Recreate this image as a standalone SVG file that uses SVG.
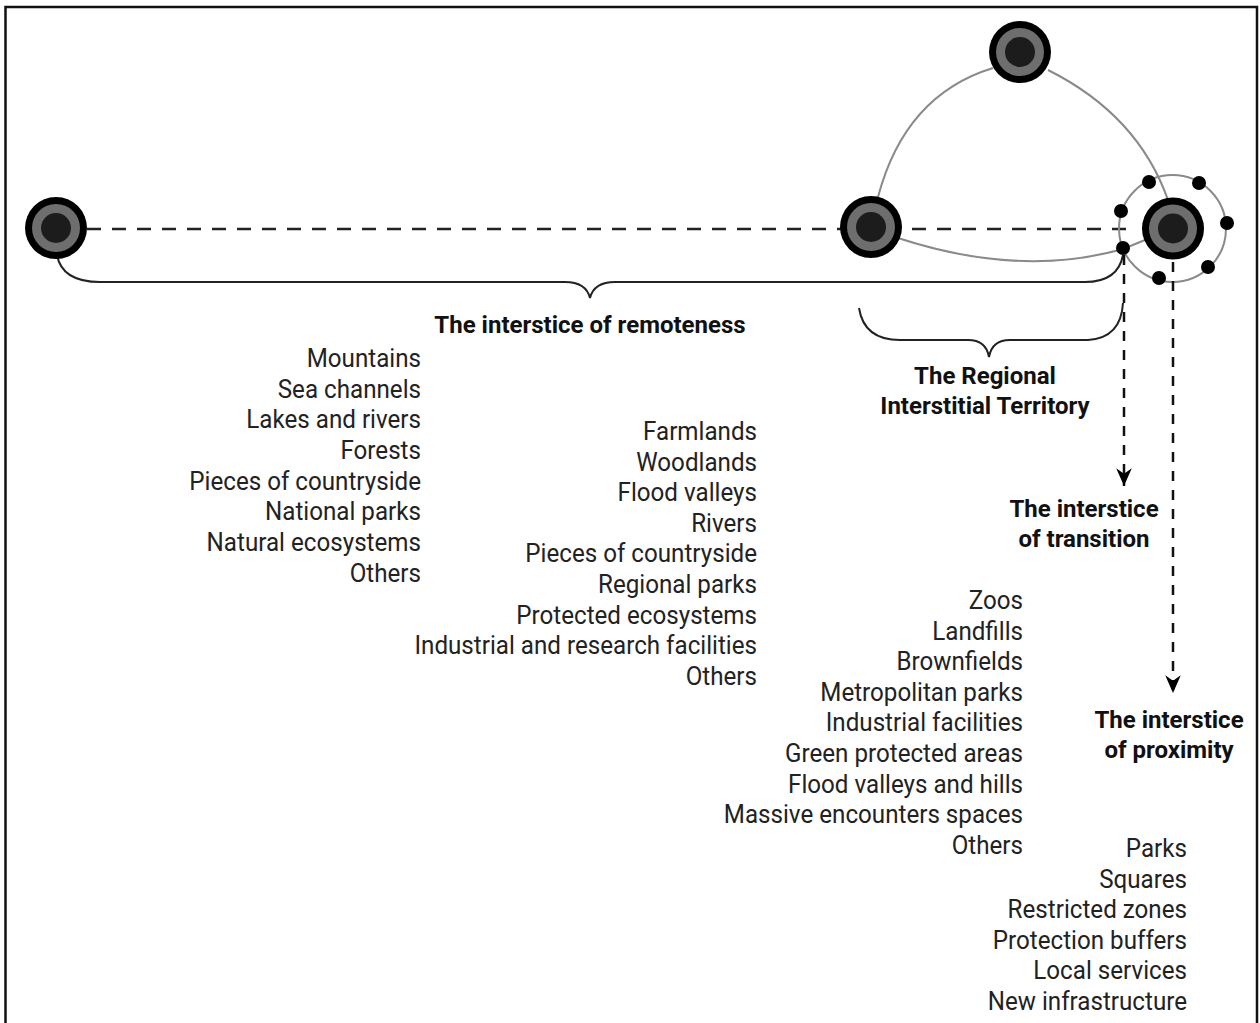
<svg xmlns="http://www.w3.org/2000/svg" width="1260" height="1023" viewBox="0 0 1260 1023">
<defs>
<style>
.frame{fill:none;stroke:#111;stroke-width:2.5}
.hdash{fill:none;stroke:#222;stroke-width:2.5;stroke-dasharray:14 11}
.vdash{fill:none;stroke:#111;stroke-width:2.5;stroke-dasharray:10 9}
.gray{fill:none;stroke:#8a8a8a;stroke-width:2}
.brace{fill:none;stroke:#222;stroke-width:2}
.outer{fill:#000}
.ring{fill:#6e6e6e}
.core{fill:#1c1c1c}
.dot{fill:#000}
.item{font-family:Roboto,"Liberation Sans",sans-serif;font-size:26px;fill:#222;text-anchor:end}
.head{font-family:Roboto,"Liberation Sans",sans-serif;font-size:24px;font-weight:bold;fill:#111;text-anchor:middle}
</style>
<marker id="arr" markerUnits="userSpaceOnUse" markerWidth="20" markerHeight="20" viewBox="-16 -9 18 18" refX="0" refY="0" orient="auto">
<path d="M0,0 L-16,-7 L-11,0 L-16,7 Z" fill="#000"/>
</marker>
</defs>
<rect class="frame" x="5.5" y="7" width="1251.5" height="1030"/>
<g id="connectors">
<path class="hdash" d="M87,229 L1130,229"/>
<path class="gray" d="M878,197 Q905,95 993,68"/>
<path class="gray" d="M1048,70 Q1138,115 1168,200"/>
<path class="gray" d="M898,238 Q1020,278 1123,249 L1145,240"/>
<circle class="gray" cx="1172.5" cy="228.5" r="53.5"/>
<path class="brace" d="M57,255 Q62,282 100,282 L565,282 Q586,282 590,298 Q594,282 615,282 L1085,282 Q1118,282 1123,255"/>
<path class="brace" d="M859,308 Q864,340 900,340 L968,340 Q986,340 989,357 Q992,340 1010,340 L1088,340 Q1121,338 1123,303"/>
<path class="vdash" d="M1124,255 L1124,486" marker-end="url(#arr)"/>
<path class="vdash" d="M1173,262 L1173,693" marker-end="url(#arr)"/>
</g>
<g id="node-left">
<circle class="outer" cx="56" cy="228" r="31"/><circle class="ring" cx="56" cy="228" r="24"/><circle class="core" cx="56" cy="228" r="15"/>
</g>
<g id="node-middle">
<circle class="outer" cx="871" cy="227" r="31"/><circle class="ring" cx="871" cy="227" r="24"/><circle class="core" cx="871" cy="227" r="15"/>
</g>
<g id="node-top">
<circle class="outer" cx="1020" cy="52" r="31"/><circle class="ring" cx="1020" cy="52" r="24"/><circle class="core" cx="1020" cy="52" r="15"/>
</g>
<g id="node-right">
<circle class="outer" cx="1173" cy="228.5" r="31"/><circle class="ring" cx="1173" cy="228.5" r="24"/><circle class="core" cx="1173" cy="228.5" r="15"/>
</g>
<g id="orbit-dots">
<circle class="dot" cx="1149" cy="182" r="7"/>
<circle class="dot" cx="1199" cy="183" r="7"/>
<circle class="dot" cx="1227" cy="223" r="7"/>
<circle class="dot" cx="1208" cy="267" r="7"/>
<circle class="dot" cx="1159" cy="278" r="7"/>
<circle class="dot" cx="1123" cy="248" r="7"/>
<circle class="dot" cx="1121" cy="211" r="7"/>
</g>
<g id="label-remoteness">
<text class="head" x="590" y="333">The interstice of remoteness</text>
<g transform="translate(421,0) scale(0.93,1)">
<text class="item" x="0" y="367">Mountains</text>
<text class="item" x="0" y="397.7">Sea channels</text>
<text class="item" x="0" y="428.3">Lakes and rivers</text>
<text class="item" x="0" y="459">Forests</text>
<text class="item" x="0" y="489.6">Pieces of countryside</text>
<text class="item" x="0" y="520.3">National parks</text>
<text class="item" x="0" y="550.9">Natural ecosystems</text>
<text class="item" x="0" y="581.6">Others</text>
</g>
</g>
<g id="label-regional">
<text class="head" x="985" y="384">The Regional</text>
<text class="head" x="985" y="414">Interstitial Territory</text>
<g transform="translate(757,0) scale(0.93,1)">
<text class="item" x="0" y="440">Farmlands</text>
<text class="item" x="0" y="470.6">Woodlands</text>
<text class="item" x="0" y="501.3">Flood valleys</text>
<text class="item" x="0" y="531.9">Rivers</text>
<text class="item" x="0" y="562.5">Pieces of countryside</text>
<text class="item" x="0" y="593.2">Regional parks</text>
<text class="item" x="0" y="623.8">Protected ecosystems</text>
<text class="item" x="0" y="654.5">Industrial and research facilities</text>
<text class="item" x="0" y="685">Others</text>
</g>
</g>
<g id="label-transition">
<text class="head" x="1084" y="517">The interstice</text>
<text class="head" x="1084" y="547">of transition</text>
<g transform="translate(1023,0) scale(0.93,1)">
<text class="item" x="0" y="609">Zoos</text>
<text class="item" x="0" y="639.6">Landfills</text>
<text class="item" x="0" y="670.2">Brownfields</text>
<text class="item" x="0" y="700.8">Metropolitan parks</text>
<text class="item" x="0" y="731.4">Industrial facilities</text>
<text class="item" x="0" y="762">Green protected areas</text>
<text class="item" x="0" y="792.6">Flood valleys and hills</text>
<text class="item" x="0" y="823.2">Massive encounters spaces</text>
<text class="item" x="0" y="853.8">Others</text>
</g>
</g>
<g id="label-proximity">
<text class="head" x="1169" y="728">The interstice</text>
<text class="head" x="1169" y="758">of proximity</text>
<g transform="translate(1187,0) scale(0.93,1)">
<text class="item" x="0" y="857">Parks</text>
<text class="item" x="0" y="887.6">Squares</text>
<text class="item" x="0" y="918.2">Restricted zones</text>
<text class="item" x="0" y="948.8">Protection buffers</text>
<text class="item" x="0" y="979.4">Local services</text>
<text class="item" x="0" y="1010">New infrastructure</text>
</g>
</g>
</svg>
